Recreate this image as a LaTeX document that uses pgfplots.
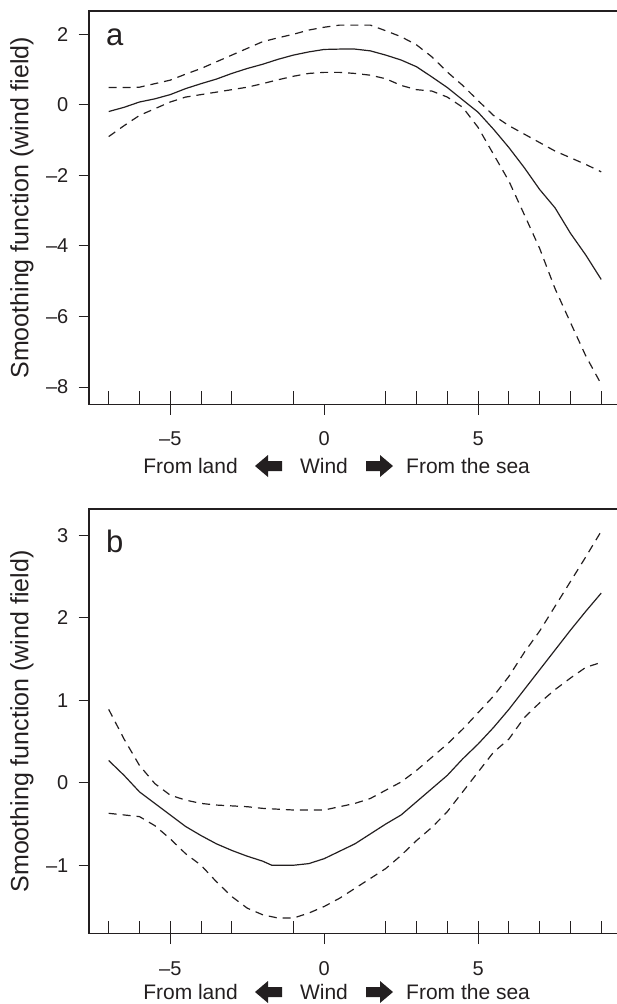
\documentclass[border=0pt]{standalone}
\usepackage{fontspec}
\setmainfont{Liberation Sans}
\usepackage{pgfplots}
\pgfplotsset{compat=1.18}
\definecolor{ink}{HTML}{231F20}
\pgfplotsset{
  panel/.style={
    scale only axis, width=531.9pt,
    xmin=-7.64, xmax=9.64,
    axis line style={ink, line width=1.3pt},
    every tick/.style={ink, line width=1pt},
    tick align=outside, tick pos=left,
    major tick length=10.5pt,
    xtick={-5,0,5}, xticklabels={–5,0,5},
    extra x ticks={-7,-6,-5,-4,-3,-1,2,3,4,5,6,7,8,9},
    extra x tick labels={},
    extra x tick style={tick align=inside, major tick length=13pt},
    tick label style={font=\fontsize{20}{24}\selectfont, text=ink},
    xticklabel style={anchor=north, inner sep=0pt, yshift=-17pt},
    yticklabel style={anchor=east, inner sep=0pt, xshift=-10pt},
    clip=false,
  },
  fit/.style={ink, line width=1.2pt},
  ci/.style={ink, line width=1.2pt, dash pattern=on 8pt off 6pt},
}
\newcommand{\leftarr}[2]{\fill[ink] (#1pt,#2pt) -- ++(13pt,11pt) -- ++(0,-6pt) -- ++(14pt,0) -- ++(0,-10pt) -- ++(-14pt,0) -- ++(0,-6pt) -- cycle;}
\newcommand{\rightarr}[2]{\fill[ink] (#1pt,#2pt) -- ++(-13pt,11pt) -- ++(0,-6pt) -- ++(-14pt,0) -- ++(0,-10pt) -- ++(14pt,0) -- ++(0,-6pt) -- cycle;}
\begin{document}
\begin{tikzpicture}
\useasboundingbox (0,0) rectangle (617pt,-1004pt);
% ---------------- panel a ----------------
\begin{axis}[panel, at={(89pt,-404.3pt)}, anchor=south west, height=393.3pt,
  ymin=-8.49, ymax=2.66, ytick={-8,-6,-4,-2,0,2}, yticklabels={–8,–6,–4,–2,0,2}]
\addplot[fit] coordinates {
(-7,-0.19)(-6.5,-0.07)(-6,0.08)(-5.5,0.17)(-5,0.29)(-4.5,0.46)(-4,0.60)(-3.5,0.73)
(-3,0.89)(-2.5,1.03)(-2,1.15)(-1.5,1.29)(-1,1.41)(-0.5,1.50)(0,1.57)(0.5,1.58)
(1,1.58)(1.5,1.53)(2,1.41)(2.5,1.27)(3,1.08)(3.5,0.79)(4,0.49)(4.5,0.14)
(5,-0.21)(5.5,-0.69)(6,-1.21)(6.5,-1.78)(7,-2.40)(7.5,-2.92)(8,-3.64)(8.5,-4.26)(9,-4.95)};
\addplot[ci] coordinates {
(-7,0.49)(-6.5,0.49)(-6,0.50)(-5.5,0.60)(-5,0.70)(-4.5,0.87)(-4,1.03)(-3.5,1.22)
(-3,1.41)(-2.5,1.60)(-2,1.79)(-1.5,1.90)(-1,2.00)(-0.5,2.12)(0,2.20)(0.5,2.26)
(1,2.26)(1.5,2.26)(2,2.10)(2.5,1.93)(3,1.70)(3.5,1.36)(4,0.93)(4.5,0.55)
(5,0.12)(5.5,-0.30)(6,-0.59)(6.5,-0.83)(7,-1.07)(7.5,-1.31)(8,-1.50)(8.5,-1.69)(9,-1.90)};
\addplot[ci] coordinates {
(-7,-0.90)(-6.5,-0.59)(-6,-0.30)(-5.5,-0.11)(-5,0.08)(-4.5,0.22)(-4,0.29)(-3.5,0.36)
(-3,0.43)(-2.5,0.50)(-2,0.60)(-1.5,0.71)(-1,0.81)(-0.5,0.89)(0,0.92)(0.5,0.92)
(1,0.89)(1.5,0.84)(2,0.74)(2.5,0.55)(3,0.43)(3.5,0.39)(4,0.22)(4.5,-0.07)
(5,-0.64)(5.5,-1.40)(6,-2.16)(6.5,-3.11)(7,-4.07)(7.5,-5.21)(8,-6.17)(8.5,-7.12)(9,-7.92)};
\end{axis}
% ---------------- panel b ----------------
\begin{axis}[panel, at={(89pt,-933.7pt)}, anchor=south west, height=424.7pt,
  ymin=-1.83, ymax=3.32, ytick={-1,0,1,2,3}, yticklabels={–1,0,1,2,3}]
\addplot[fit] coordinates {
(-7,0.27)(-6.5,0.09)(-6,-0.11)(-5.5,-0.25)(-5,-0.39)(-4.5,-0.53)(-4,-0.64)(-3.5,-0.74)
(-3,-0.82)(-2.5,-0.89)(-2,-0.95)(-1.7,-1.00)(-1,-1.00)(-0.5,-0.98)(0,-0.92)(0.5,-0.83)
(1,-0.74)(1.5,-0.62)(2,-0.50)(2.5,-0.39)(3,-0.23)(3.5,-0.07)(4,0.09)(4.5,0.29)
(5,0.47)(5.5,0.67)(6,0.89)(6.5,1.13)(7,1.37)(7.5,1.61)(8,1.85)(8.5,2.08)(9,2.30)};
\addplot[ci] coordinates {
(-7,0.89)(-6.5,0.53)(-6,0.21)(-5.5,-0.01)(-5,-0.15)(-4.5,-0.21)(-4,-0.25)(-3.5,-0.27)
(-3,-0.28)(-2.5,-0.29)(-2,-0.31)(-1.5,-0.32)(-1,-0.33)(-0.5,-0.33)(0,-0.33)(0.5,-0.29)
(1,-0.25)(1.5,-0.19)(2,-0.09)(2.5,0.01)(3,0.15)(3.5,0.31)(4,0.47)(4.5,0.65)
(5,0.85)(5.5,1.05)(6,1.29)(6.5,1.58)(7,1.84)(7.5,2.14)(8,2.44)(8.5,2.74)(9,3.05)};
\addplot[ci] coordinates {
(-7,-0.37)(-6.5,-0.39)(-6,-0.41)(-5.5,-0.52)(-5,-0.68)(-4.5,-0.86)(-4,-1.00)(-3.5,-1.20)
(-3,-1.38)(-2.5,-1.52)(-2,-1.60)(-1.5,-1.64)(-1,-1.64)(-0.5,-1.58)(0,-1.50)(0.5,-1.40)
(1,-1.28)(1.5,-1.16)(2,-1.04)(2.5,-0.88)(3,-0.70)(3.5,-0.54)(4,-0.35)(4.5,-0.11)
(5,0.13)(5.5,0.37)(6,0.53)(6.5,0.79)(7,0.97)(7.5,1.13)(8,1.27)(8.5,1.40)(9,1.46)};
\end{axis}
% ---------------- labels ----------------
\tikzset{lab/.style={font=\fontsize{21}{25}\selectfont, text=ink, inner sep=0pt}}
\node[lab, font=\fontsize{25}{30}\selectfont, rotate=90] at (22pt,-207.7pt) {Smoothing function (wind field)};
\node[lab, font=\fontsize{25}{30}\selectfont, rotate=90] at (22pt,-721.5pt) {Smoothing function (wind field)};
\node[lab, font=\fontsize{31}{36}\selectfont, anchor=base west] at (106pt,-45pt) {a};
\node[lab, font=\fontsize{31}{36}\selectfont, anchor=base west] at (106pt,-552pt) {b};
% x label a
\node[lab, anchor=base east] at (238pt,-473.5pt) {From land};
\leftarr{255}{-466}
\node[lab, anchor=base] at (324pt,-473.5pt) {Wind};
\rightarr{393}{-466}
\node[lab, anchor=base west] at (406pt,-473.5pt) {From the sea};
% x label b
\node[lab, anchor=base east] at (238pt,-999.5pt) {From land};
\leftarr{255}{-992}
\node[lab, anchor=base] at (324pt,-999.5pt) {Wind};
\rightarr{393}{-992}
\node[lab, anchor=base west] at (406pt,-999.5pt) {From the sea};
\end{tikzpicture}
\end{document}
